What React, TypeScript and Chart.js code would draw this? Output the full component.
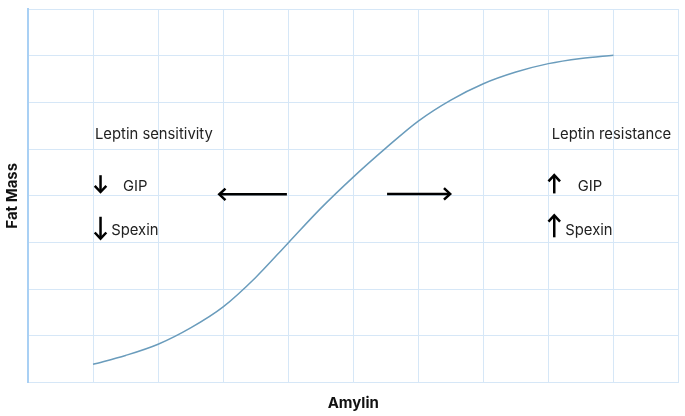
import React, { useEffect, useRef } from "react";
import { Chart, registerables } from "chart.js";

Chart.register(...registerables);

// Curve: Amylin (x, grid units) vs Fat Mass (y, grid units)
const amylinX = [1, 1.5, 2, 2.5, 3, 3.5, 4, 4.5, 5, 5.5, 6, 6.5, 7, 7.5, 8, 8.5, 9];
const fatMassY = [0.39, 0.58, 0.82, 1.17, 1.62, 2.25, 2.99, 3.73, 4.4, 5.02, 5.6, 6.05, 6.4, 6.65, 6.83, 6.94, 7.01];

// Annotation labels (data coordinates, left-aligned, vertically centred)
const labelTexts = ["Leptin sensitivity", "GIP", "Spexin", "Leptin resistance", "GIP", "Spexin"];
const labelX = [1.03, 1.46, 1.28, 8.05, 8.45, 8.26];
const labelY = [5.32, 4.2, 3.26, 5.32, 4.2, 3.26];

// Arrows: tail (x0,y0) -> head (x1,y1), data coordinates
const arrowX0 = [1.115, 1.115, 3.98, 5.52, 8.09, 8.09];
const arrowY0 = [4.44, 3.55, 4.03, 4.04, 4.05, 3.11];
const arrowX1 = [1.115, 1.115, 2.94, 6.49, 8.09, 8.09];
const arrowY1 = [4.08, 3.08, 4.03, 4.04, 4.44, 3.58];

const xTitle = "Amylin";
const yTitle = "Fat Mass";

const annotationPlugin = {
  id: "annotations",
  afterDatasetsDraw(chart: any) {
    const { ctx, scales } = chart;
    const xs = scales.x;
    const ys = scales.y;
    ctx.save();
    ctx.fillStyle = "#222";
    ctx.font = "400 14.8px Inter, 'Noto Sans', sans-serif";
    ctx.textAlign = "left";
    ctx.textBaseline = "middle";
    labelTexts.forEach((t, i) => {
      ctx.fillText(t, xs.getPixelForValue(labelX[i]), ys.getPixelForValue(labelY[i]));
    });
    ctx.strokeStyle = "#000";
    ctx.lineWidth = 2.5;
    ctx.lineCap = "butt";
    ctx.lineJoin = "miter";
    for (let i = 0; i < arrowX0.length; i++) {
      const x0 = xs.getPixelForValue(arrowX0[i]);
      const y0 = ys.getPixelForValue(arrowY0[i]);
      const x1 = xs.getPixelForValue(arrowX1[i]);
      const y1 = ys.getPixelForValue(arrowY1[i]);
      const ang = Math.atan2(y1 - y0, x1 - x0);
      const h = 8.5;
      ctx.beginPath();
      ctx.moveTo(x0, y0);
      ctx.lineTo(x1 - Math.cos(ang) * 1, y1 - Math.sin(ang) * 1);
      ctx.stroke();
      ctx.beginPath();
      ctx.moveTo(x1 - h * Math.cos(ang - 0.75), y1 - h * Math.sin(ang - 0.75));
      ctx.lineTo(x1, y1);
      ctx.lineTo(x1 - h * Math.cos(ang + 0.75), y1 - h * Math.sin(ang + 0.75));
      ctx.stroke();
    }
    ctx.restore();
  },
};

export default function App() {
  const ref = useRef<HTMLCanvasElement | null>(null);
  useEffect(() => {
    if (!ref.current) return;
    const chart = new Chart(ref.current, {
      type: "scatter",
      data: {
        datasets: [
          {
            data: amylinX.map((x, i) => ({ x, y: fatMassY[i] })),
            showLine: true,
            borderColor: "#6a9cbc",
            borderWidth: 1.5,
            pointRadius: 0,
            cubicInterpolationMode: "monotone",
            fill: false,
          },
        ],
      },
      options: {
        animation: false,
        responsive: false,
        maintainAspectRatio: false,
        layout: { padding: { left: 3, top: 9, right: 6.5, bottom: 3.5 } },
        plugins: { legend: { display: false }, tooltip: { enabled: false } },
        scales: {
          x: {
            type: "linear",
            min: 0,
            max: 10,
            ticks: { display: false, stepSize: 1 },
            grid: { color: "#d6e7f7", lineWidth: 1, drawTicks: false },
            border: { display: true, color: "#d6e7f7", width: 1 },
            title: {
              display: true,
              text: xTitle,
              color: "#111",
              font: { family: "Inter, 'Noto Sans', sans-serif", size: 15, weight: "bold" },
              padding: { top: 12, bottom: 0 },
            },
          },
          y: {
            type: "linear",
            min: 0,
            max: 8,
            ticks: { display: false, stepSize: 1 },
            grid: { color: "#d6e7f7", lineWidth: 1, drawTicks: false },
            border: { display: true, color: "#a9d0f4", width: 2 },
            title: {
              display: true,
              text: yTitle,
              color: "#111",
              font: { family: "Inter, 'Noto Sans', sans-serif", size: 15, weight: "bold" },
              padding: { top: 0, bottom: 7 },
            },
          },
        },
      } as any,
      plugins: [annotationPlugin],
    });
    return () => chart.destroy();
  }, []);
  return (
    <div style={{ position: "fixed", left: 0, top: 0, width: 685, height: 416, background: "#fff" }}>
      <canvas ref={ref} width={685} height={416} style={{ display: "block" }} />
    </div>
  );
}
